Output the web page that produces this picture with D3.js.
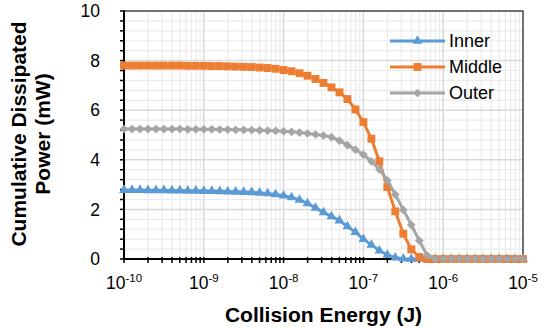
<!DOCTYPE html>
<html>
<head>
<meta charset="utf-8">
<script src="https://cdn.jsdelivr.net/npm/d3@7"></script>
<style>
  html, body { margin: 0; padding: 0; background: #fff; }
  svg { display: block; font-family: Arial, "Liberation Sans", sans-serif; }
</style>
</head>
<body>
<div id="chart"></div>
<script>
// log10 of collision energy (J), one point every 0.1 decade
const energyExp = [
  -10.0, -9.9, -9.8, -9.7, -9.6, -9.5, -9.4, -9.3, -9.2, -9.1,
  -9.0, -8.9, -8.8, -8.7, -8.6, -8.5, -8.4, -8.3, -8.2, -8.1,
  -8.0, -7.9, -7.8, -7.7, -7.6, -7.5, -7.4, -7.3, -7.2, -7.1,
  -7.0, -6.9, -6.8, -6.7, -6.6, -6.5, -6.4, -6.3, -6.2, -6.1,
  -6.0, -5.9, -5.8, -5.7, -5.6, -5.5, -5.4, -5.3, -5.2, -5.1,
  -5.0
];

const innerVals = [
  2.78, 2.78, 2.78, 2.77, 2.77, 2.77, 2.76, 2.76, 2.75, 2.75, 2.74,
  2.74, 2.73, 2.72, 2.71, 2.70, 2.69, 2.67, 2.64, 2.60, 2.55,
  2.48, 2.38, 2.24, 2.06, 1.88, 1.72, 1.55, 1.31, 1.08, 0.80,
  0.57, 0.34, 0.16, 0.05, 0.01,
  0, 0, 0, 0, 0, 0, 0, 0, 0, 0, 0, 0, 0, 0, 0
];

const middleVals = [
  7.80, 7.80, 7.80, 7.80, 7.80, 7.80, 7.80, 7.80, 7.79, 7.79, 7.79,
  7.78, 7.78, 7.77, 7.76, 7.75, 7.74, 7.72, 7.70, 7.67, 7.62,
  7.57, 7.49, 7.39, 7.26, 7.10, 6.92, 6.72, 6.45, 6.03, 5.52,
  4.85, 3.94, 2.90, 1.92, 1.02, 0.39, 0.08,
  0, 0, 0, 0, 0, 0, 0, 0, 0, 0, 0, 0, 0
];

const outerVals = [
  5.24, 5.24, 5.24, 5.24, 5.24, 5.24, 5.24, 5.24, 5.23, 5.23, 5.23,
  5.23, 5.22, 5.22, 5.21, 5.21, 5.20, 5.19, 5.18, 5.17, 5.15,
  5.13, 5.10, 5.06, 5.02, 4.98, 4.91, 4.77, 4.59, 4.41, 4.21,
  3.94, 3.61, 3.17, 2.60, 1.98, 1.38, 0.74, 0.14,
  0, 0, 0, 0, 0, 0, 0, 0, 0, 0, 0, 0
];

const seriesNames = ['Inner', 'Middle', 'Outer'];
const xTickExps = [-10, -9, -8, -7, -6, -5];
const yTicks = [0, 2, 4, 6, 8, 10];

const colors = { Inner: '#5b9bd5', Middle: '#ed7d31', Outer: '#a5a5a5' };

const W = 545, H = 329;
const M = { left: 124, right: 22, top: 11, bottom: 70 };
const iw = W - M.left - M.right;
const ih = H - M.top - M.bottom;

const svg = d3.select('#chart').append('svg')
  .attr('width', W)
  .attr('height', H);

const x = d3.scaleLog().domain([1e-10, 1e-5]).range([0, iw]);
const y = d3.scaleLinear().domain([0, 10]).range([ih, 0]);

const g = svg.append('g').attr('transform', `translate(${M.left},${M.top})`);

// ── Gridlines ───────────────────────────────────────────────────────────────

const minorX = [];
xTickExps.slice(0, -1).forEach(e => {
  for (let m = 2; m <= 9; m++) minorX.push(m * Math.pow(10, e));
});
const minorY = d3.range(0, 10.01, 0.4).filter(v => Math.abs(v / 2 - Math.round(v / 2)) > 1e-6);

g.append('g').selectAll('line')
  .data(minorX)
  .join('line')
  .attr('x1', d => x(d)).attr('x2', d => x(d))
  .attr('y1', 0).attr('y2', ih)
  .attr('stroke', '#ebebeb').attr('stroke-width', 1.2);

g.append('g').selectAll('line')
  .data(minorY)
  .join('line')
  .attr('x1', 0).attr('x2', iw)
  .attr('y1', d => y(d)).attr('y2', d => y(d))
  .attr('stroke', '#ebebeb').attr('stroke-width', 1.2);

g.append('g').selectAll('line')
  .data(xTickExps.map(e => Math.pow(10, e)))
  .join('line')
  .attr('x1', d => x(d)).attr('x2', d => x(d))
  .attr('y1', 0).attr('y2', ih)
  .attr('stroke', '#d9d9d9').attr('stroke-width', 1.5);

g.append('g').selectAll('line')
  .data(yTicks.slice(1))
  .join('line')
  .attr('x1', 0).attr('x2', iw)
  .attr('y1', d => y(d)).attr('y2', d => y(d))
  .attr('stroke', '#d9d9d9').attr('stroke-width', 1.5);

// ── Border and axes ─────────────────────────────────────────────────────────

g.append('rect')
  .attr('width', iw).attr('height', ih)
  .attr('fill', 'none')
  .attr('stroke', '#000').attr('stroke-width', 1);

const axisG = g.append('g');

// y ticks (major every 2, minor every 0.4)
axisG.selectAll('line.ytick')
  .data(d3.range(0, 10.01, 0.4))
  .join('line')
  .attr('class', 'ytick')
  .attr('x1', -4).attr('x2', 1)
  .attr('y1', d => y(d)).attr('y2', d => y(d))
  .attr('stroke', '#000').attr('stroke-width', 1.5);

// x ticks at decades and 2..9
axisG.selectAll('line.xtick')
  .data(minorX.concat(xTickExps.map(e => Math.pow(10, e))))
  .join('line')
  .attr('class', 'xtick')
  .attr('x1', d => x(d)).attr('x2', d => x(d))
  .attr('y1', ih - 2).attr('y2', ih + 4)
  .attr('stroke', '#000').attr('stroke-width', 1.5);

axisG.append('line')
  .attr('x1', 0).attr('x2', 0).attr('y1', 0).attr('y2', ih)
  .attr('stroke', '#000').attr('stroke-width', 2);
axisG.append('line')
  .attr('x1', 0).attr('x2', iw).attr('y1', ih).attr('y2', ih)
  .attr('stroke', '#000').attr('stroke-width', 2);

// y tick labels
axisG.selectAll('text.ylab')
  .data(yTicks)
  .join('text')
  .attr('class', 'ylab')
  .attr('x', -24)
  .attr('y', d => y(d))
  .attr('dy', '0.35em')
  .attr('text-anchor', 'end')
  .attr('font-size', 17.5)
  .attr('fill', '#000')
  .text(d => d);

// x tick labels: 10 with superscript exponent
const xl = axisG.selectAll('text.xlab')
  .data(xTickExps)
  .join('text')
  .attr('class', 'xlab')
  .attr('x', d => x(Math.pow(10, d)))
  .attr('y', ih + 30)
  .attr('text-anchor', 'middle')
  .attr('font-size', 17.5)
  .attr('fill', '#000');
xl.append('tspan').text('10');
xl.append('tspan')
  .attr('font-size', 11.5)
  .attr('dy', -7)
  .text(d => (d < 0 ? '-' : '') + Math.abs(d));

// axis titles
svg.append('text')
  .attr('x', M.left + iw / 2)
  .attr('y', 322)
  .attr('text-anchor', 'middle')
  .attr('font-size', 21)
  .attr('font-weight', 'bold')
  .text('Collision Energy (J)');

const yTitle = svg.append('text')
  .attr('transform', 'translate(0,134) rotate(-90)')
  .attr('text-anchor', 'middle')
  .attr('font-size', 21)
  .attr('font-weight', 'bold');
yTitle.append('tspan').attr('x', 0).attr('y', 26).text('Cumulative Dissipated');
yTitle.append('tspan').attr('x', 0).attr('y', 50).text('Power (mW)');

// ── Series ──────────────────────────────────────────────────────────────────

const seriesData = [
  { name: 'Inner', values: innerVals },
  { name: 'Middle', values: middleVals },
  { name: 'Outer', values: outerVals }
].map(s => ({
  name: s.name,
  points: energyExp.map((e, i) => ({ e: Math.pow(10, e), v: s.values[i] }))
}));

const markerPath = {
  Inner: d3.symbol().type(d3.symbolTriangle).size(42)(),
  Middle: d3.symbol().type(d3.symbolSquare).size(62)(),
  Outer: d3.symbol().type(d3.symbolSquare).size(38)()
};
const markerRot = { Inner: 0, Middle: 0, Outer: 45 };

const line = d3.line().x(d => x(d.e)).y(d => y(d.v));

const plot = g.append('g');

seriesData.forEach(s => {
  const sg = plot.append('g').attr('class', 'series');
  sg.append('path')
    .datum(s.points)
    .attr('d', line)
    .attr('fill', 'none')
    .attr('stroke', colors[s.name])
    .attr('stroke-width', 3);
  sg.selectAll('path.mk')
    .data(s.points)
    .join('path')
    .attr('class', 'mk')
    .attr('d', markerPath[s.name])
    .attr('transform', d => `translate(${x(d.e)},${y(d.v)}) rotate(${markerRot[s.name]})`)
    .attr('fill', colors[s.name]);
});

// ── Legend ──────────────────────────────────────────────────────────────────

const legend = svg.append('g');
const lg = legend.selectAll('g')
  .data(seriesNames)
  .join('g')
  .attr('transform', (d, i) => `translate(390,${41 + i * 26})`);

lg.append('line')
  .attr('x1', 0).attr('x2', 55)
  .attr('stroke', d => colors[d])
  .attr('stroke-width', 3);
lg.append('path')
  .attr('d', d => markerPath[d])
  .attr('transform', d => `translate(27.5,0) rotate(${markerRot[d]})`)
  .attr('fill', d => colors[d]);
lg.append('text')
  .attr('x', 59)
  .attr('dy', '0.35em')
  .attr('font-size', 18)
  .attr('fill', '#000')
  .text(d => d);
</script>
</body>
</html>
